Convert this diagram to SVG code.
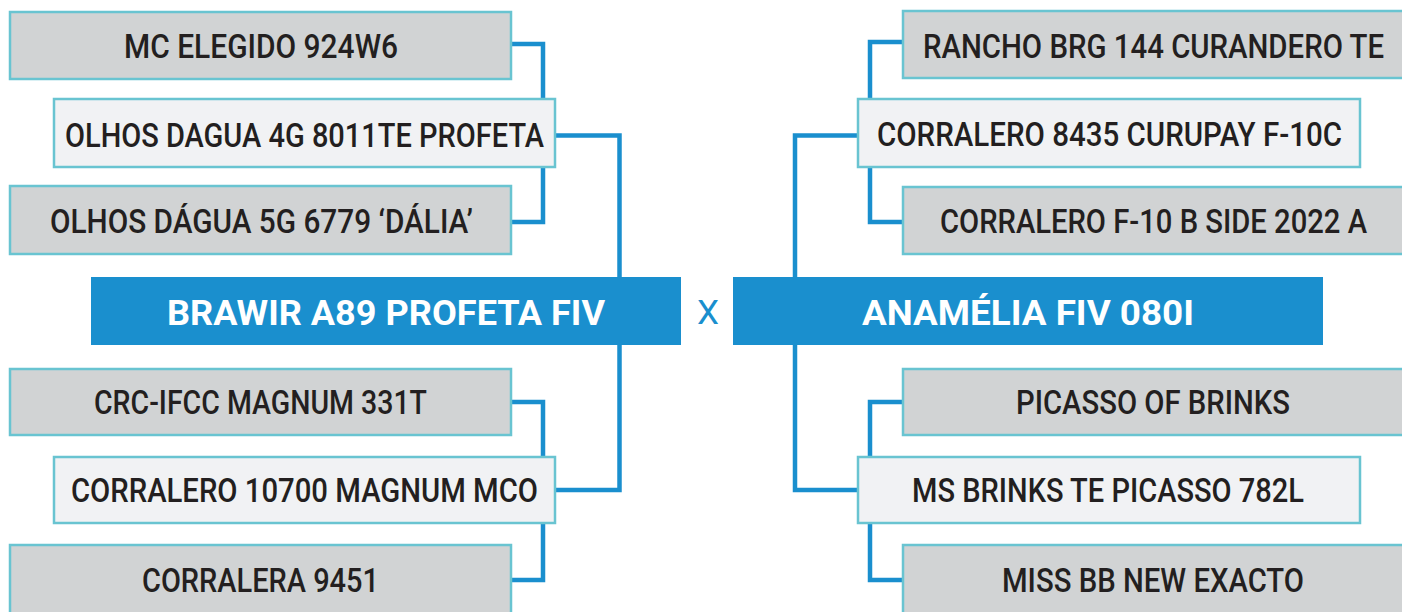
<svg xmlns="http://www.w3.org/2000/svg" width="1402" height="612" viewBox="0 0 1402 612">
<style>
.g{fill:#d1d3d4;stroke:#69c4d1;stroke-width:2.5}
.l{fill:#f1f2f4;stroke:#69c4d1;stroke-width:2.5}
.m{fill:#1a8fce}
.t{font-family:Roboto,"Liberation Sans",Arial,sans-serif;font-size:33px;font-weight:500;fill:#231f20;text-anchor:middle}
.b{font-family:Roboto,"Liberation Sans",Arial,sans-serif;font-size:35px;font-weight:bold;fill:#ffffff;text-anchor:middle}
.x{font-family:Roboto,"Liberation Sans",Arial,sans-serif;font-size:33px;fill:#1a8fce;text-anchor:middle}
.c{fill:none;stroke:#1a8fce;stroke-width:4.5;stroke-linejoin:miter}
</style>
<rect width="1402" height="612" fill="#ffffff"/>
<g id="connectors">
<path class="c" d="M512,44 H543 V222 H512"/>
<path class="c" d="M556,135.5 H619.5 V490 H556"/>
<path class="c" d="M512,402 H543 V580 H512"/>
<path class="c" d="M902,42 H870 V222 H902"/>
<path class="c" d="M857,135.5 H795 V490 H857"/>
<path class="c" d="M902,402 H870 V580 H902"/>
</g>
<g id="n1"><rect class="g" x="10" y="12" width="501" height="67"/><text class="t" x="261" y="58" textLength="274" lengthAdjust="spacingAndGlyphs">MC ELEGIDO 924W6</text></g>
<g id="n2"><rect class="l" x="54" y="99" width="501" height="68"/><text class="t" x="304.5" y="147" textLength="479" lengthAdjust="spacingAndGlyphs">OLHOS DAGUA 4G 8011TE PROFETA</text></g>
<g id="n3"><rect class="g" x="10" y="186" width="501" height="68"/><text class="t" x="261.5" y="233" textLength="423" lengthAdjust="spacingAndGlyphs">OLHOS DÁGUA 5G 6779 ‘DÁLIA’</text></g>
<g id="sire"><rect class="m" x="91" y="277" width="590" height="68"/><text class="b" x="386" y="325" textLength="438" lengthAdjust="spacingAndGlyphs">BRAWIR A89 PROFETA FIV</text></g>
<g id="cross"><text class="x" x="708" y="324" textLength="22" lengthAdjust="spacingAndGlyphs">X</text></g>
<g id="dam"><rect class="m" x="733" y="277" width="590" height="68"/><text class="b" x="1028" y="325" textLength="332" lengthAdjust="spacingAndGlyphs">ANAMÉLIA FIV 080I</text></g>
<g id="n4"><rect class="g" x="10" y="369" width="501" height="66"/><text class="t" x="260.5" y="414" textLength="333" lengthAdjust="spacingAndGlyphs">CRC-IFCC MAGNUM 331T</text></g>
<g id="n5"><rect class="l" x="54" y="457" width="501" height="66"/><text class="t" x="304.5" y="502" textLength="467" lengthAdjust="spacingAndGlyphs">CORRALERO 10700 MAGNUM MCO</text></g>
<g id="n6"><rect class="g" x="10" y="545" width="501" height="72"/><text class="t" x="260.5" y="592" textLength="237" lengthAdjust="spacingAndGlyphs">CORRALERA 9451</text></g>
<g id="n7"><rect class="g" x="903" y="11" width="501" height="67"/><text class="t" x="1153.5" y="58" textLength="461" lengthAdjust="spacingAndGlyphs">RANCHO BRG 144 CURANDERO TE</text></g>
<g id="n8"><rect class="l" x="858" y="99" width="502" height="68"/><text class="t" x="1109.5" y="146" textLength="465" lengthAdjust="spacingAndGlyphs">CORRALERO 8435 CURUPAY F-10C</text></g>
<g id="n9"><rect class="g" x="903" y="187" width="501" height="67"/><text class="t" x="1153.5" y="233" textLength="427" lengthAdjust="spacingAndGlyphs">CORRALERO F-10 B SIDE 2022 A</text></g>
<g id="n10"><rect class="g" x="903" y="369" width="501" height="66"/><text class="t" x="1153" y="414" textLength="274" lengthAdjust="spacingAndGlyphs">PICASSO OF BRINKS</text></g>
<g id="n11"><rect class="l" x="858" y="457" width="502" height="66"/><text class="t" x="1108" y="502" textLength="392" lengthAdjust="spacingAndGlyphs">MS BRINKS TE PICASSO 782L</text></g>
<g id="n12"><rect class="g" x="903" y="545" width="501" height="72"/><text class="t" x="1153" y="592" textLength="302" lengthAdjust="spacingAndGlyphs">MISS BB NEW EXACTO</text></g>
</svg>
